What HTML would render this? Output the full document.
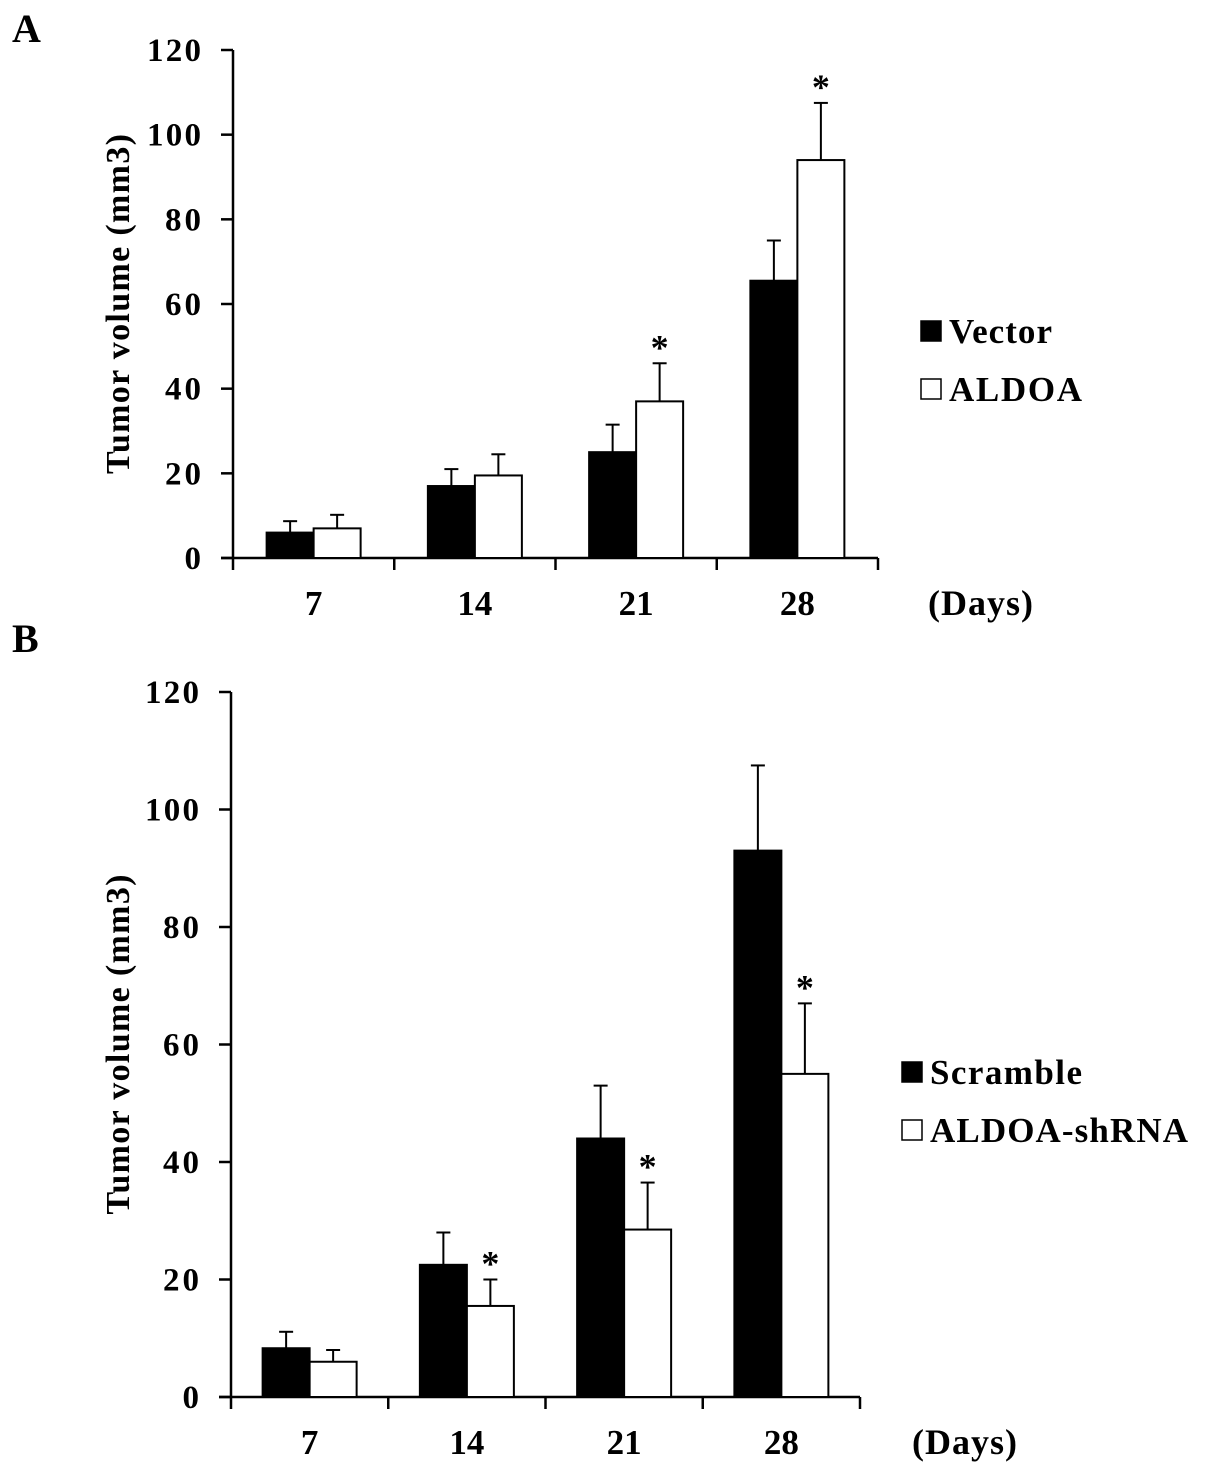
<!DOCTYPE html>
<html><head><meta charset="utf-8"><style>
html,body{margin:0;padding:0;background:#fff;}
svg{display:block;font-family:"Liberation Serif",serif;font-weight:bold;}
</style></head><body>
<svg id="chart" width="1205" height="1469" viewBox="0 0 1205 1469"></svg>
<script>
const categories = ["7","14","21","28"];
const yTicks = [0,20,40,60,80,100,120];
const vectorVals = [6,17,25,65.5];
const vectorErr = [2.7,4,6.5,9.5];
const aldoaVals = [7,19.5,37,94];
const aldoaErr = [3.2,5,9,13.5];
const aldoaSig = [false,false,true,true];
const scrambleVals = [8.3,22.5,44,93];
const scrambleErr = [2.8,5.5,9,14.5];
const shrnaVals = [6,15.5,28.5,55];
const shrnaErr = [2,4.5,8,12];
const shrnaSig = [false,true,true,true];

const svg = document.getElementById('chart');
const NS = 'http://www.w3.org/2000/svg';
function mk(tag, attrs, parent){
  const e = document.createElementNS(NS, tag);
  for (const k in attrs) e.setAttribute(k, attrs[k]);
  (parent||svg).appendChild(e);
  return e;
}
function panel(p){
  const g = mk('g', {});
  
  
  const y = v => p.y0 - (v/120)*(p.y0 - p.y120);
  const catW = (p.xEnd - p.x0)/categories.length;
  const cx = i => p.x0 + catW*(i+0.5);
  const lt = mk('text', {x:12, y:p.letterY, 'font-size':40}, g); lt.textContent = p.letter;
   
  const ya = mk('line', {x1:p.x0, y1:p.y120, x2:p.x0, y2:p.y0+12, stroke:'#000','stroke-width':2.5}, g);
   
  const xa = mk('line', {x1:p.x0-12, y1:p.y0, x2:p.xEnd, y2:p.y0, stroke:'#000','stroke-width':2.5}, g);
   
  yTicks.forEach(t => {
    mk('line', {x1:p.x0-12, y1:y(t), x2:p.x0, y2:y(t), stroke:'#000','stroke-width':2.5}, g);
    const tx = mk('text', {x:p.x0-32, y:y(t)+11, 'font-size':33, 'text-anchor':'end', 'textLength': String(t).length*18}, g);
    tx.textContent = t;
     
  });
  for (let i=1;i<=categories.length;i++){
    const xx = p.x0 + catW*i;
    mk('line', {x1:xx, y1:p.y0, x2:xx, y2:p.y0+12, stroke:'#000','stroke-width':2.5}, g);
  }
  categories.forEach((c,i) => {
    const tx = mk('text', {x:cx(i), y:p.y0+57, 'font-size':35, 'text-anchor':'middle'}, g);
    tx.textContent = c;
     
  });
  const days = mk('text', {x:p.daysX, y:p.y0+57, 'font-size':36, 'textLength':105}, g); days.textContent = '(Days)';
   
  const ty = (p.y0+p.y120)/2;
  const tt = mk('text', {x:0, y:0, 'font-size':34, 'text-anchor':'middle', 'textLength':340, transform:`translate(129,${ty}) rotate(-90)`}, g);
  tt.textContent = 'Tumor volume (mm3)';
   
  const bw = 47;
  const series = [[p.v1,p.e1,'#000'],[p.v2,p.e2,'#fff']];
  series.forEach((s,si) => {
    s[0].forEach((v,i) => {
      const x = cx(i) - bw + si*bw;
      const r = mk('rect', {x:x, y:y(v), width:bw, height:p.y0-y(v), fill:s[2], stroke:'#000','stroke-width':2}, g);
      
      
      const mx = x + bw/2, top = y(v + s[1][i]);
      mk('line', {x1:mx, y1:y(v), x2:mx, y2:top, stroke:'#000','stroke-width':2}, g);
      mk('line', {x1:mx-7, y1:top, x2:mx+7, y2:top, stroke:'#000','stroke-width':2}, g);
      if (si===1 && p.sig[i]) {
        const a = mk('text', {x:mx, y:top-4, 'font-size':36, 'text-anchor':'middle'}, g);
        a.textContent = '*';
         
      }
    });
  });
  [[p.n1,'#000',0,p.w1],[p.n2,'#fff',1,p.w2]].forEach(([n,f,k,w]) => {
    const ly = p.legY + k*58;
    const sq = mk('rect', {x:p.legX, y:ly, width:20, height:20, fill:f, stroke:'#000','stroke-width':1.5}, g);
     
    const t = mk('text', {x:p.legX+28, y:ly+22, 'font-size':35, 'textLength':w}, g);
    t.textContent = n;
     
  });
}
panel({letter:'A', letterY:42, x0:233, xEnd:878, y0:558, y120:50, v1:vectorVals, e1:vectorErr, v2:aldoaVals, e2:aldoaErr, sig:aldoaSig, n1:'Vector', n2:'ALDOA', w1:103, w2:133, legX:921, legY:321, daysX:928});
panel({letter:'B', letterY:652, x0:231, xEnd:860, y0:1397, y120:692, v1:scrambleVals, e1:scrambleErr, v2:shrnaVals, e2:shrnaErr, sig:shrnaSig, n1:'Scramble', n2:'ALDOA-shRNA', w1:152, w2:258, legX:902, legY:1062, daysX:912});
</script>
</body></html>
